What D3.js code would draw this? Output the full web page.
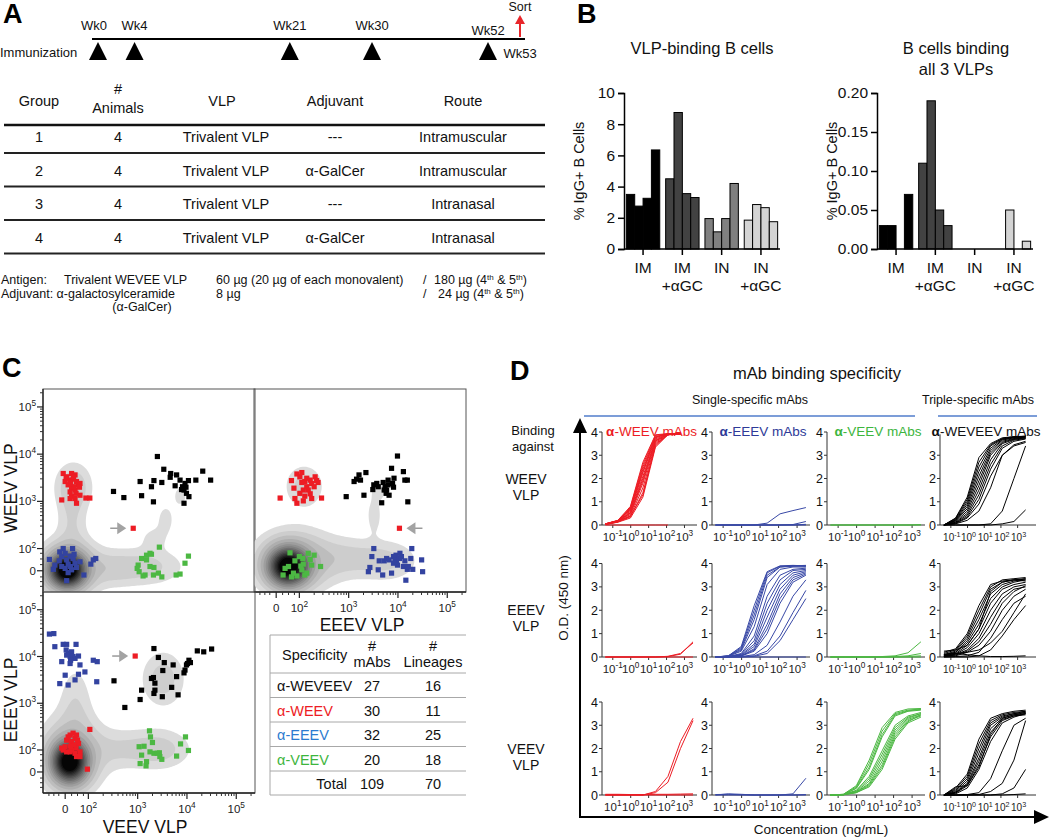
<!DOCTYPE html>
<html>
<head>
<meta charset="utf-8">
<script src="https://cdn.jsdelivr.net/npm/d3@7"></script>
<style>
  body { margin: 0; background: #fff; }
  text { font-family: "Liberation Sans", Arial, Helvetica, sans-serif; }
</style>
</head>
<body>
<svg id="fig" width="1050" height="839"></svg>
<script>
// ---------- Panel A data ----------
const immunWeeks = [0, 4, 21, 30, 52];
const sortWeek = 53;
const groupIds = [1, 2, 3, 4];
const animalCounts = [4, 4, 4, 4];
const vlpNames = ["Trivalent VLP", "Trivalent VLP", "Trivalent VLP", "Trivalent VLP"];
const adjuvants = ["---", "α-GalCer", "---", "α-GalCer"];
const routes = ["Intramuscular", "Intramuscular", "Intranasal", "Intranasal"];

// ---------- Panel B data ----------
const groupLabels = [["IM"], ["IM", "+αGC"], ["IN"], ["IN", "+αGC"]];
const groupColors = ["#000000", "#424242", "#808080", "#d4d4d4"];
const vlpBinding = [[3.5, 2.75, 3.25, 6.35], [4.5, 8.75, 3.55, 3.3], [1.95, 1.1, 1.95, 4.2], [1.85, 2.85, 2.65, 1.75]];
const tripleBinding = [[0.03, 0.03, 0, 0.07], [0.11, 0.19, 0.05, 0.03], [0, 0, 0, 0], [0, 0.05, 0, 0.01]];

// ---------- Panel C data (display units: 1.53 = "0", 2 = 10^2 ... 5 = 10^5) ----------
const flowTicks = [1.53, 2, 3, 4, 5];
const flowTickExp = [null, "2", "3", "4", "5"];
// top-left: x = VEEV, y = WEEV
const tlRed = [[1.49,3.59],[1.56,3.52],[1.66,3.59],[1.73,3.56],[1.53,3.42],[1.63,3.45],[1.69,3.47],[1.76,3.42],[1.59,3.35],[1.80,3.35],[1.66,3.28],[1.83,3.38],[1.73,3.24],[1.63,3.20],[1.66,3.11],[1.73,3.06],[1.63,3.06],[1.83,3.13],[1.95,3.07],[2.03,3.07],[1.46,3.03],[1.76,2.96],[1.71,3.31],[1.82,3.30],[1.64,3.38],[1.55,3.49],[1.75,3.17],[1.70,3.52],[2.91,2.43]];
const tlBlack = [[2.51,3.21],[2.72,3.08],[3.05,3.42],[3.08,3.12],[3.28,3.31],[3.33,3.44],[3.32,2.99],[3.40,3.95],[3.49,3.40],[3.53,3.68],[3.67,3.59],[3.66,3.51],[3.79,3.56],[3.76,3.33],[3.86,3.45],[3.91,3.31],[3.94,3.24],[3.99,3.17],[3.96,3.38],[4.03,3.44],[4.04,3.10],[3.94,2.96],[4.18,3.45],[4.32,3.64],[4.48,3.45],[3.89,3.25],[3.98,3.30]];
const tlBlue = [[1.21,1.77],[1.29,1.56],[1.32,1.65],[1.42,1.93],[1.46,1.83],[1.49,2.00],[1.53,1.90],[1.56,1.76],[1.59,1.67],[1.63,1.84],[1.68,2.00],[1.69,1.79],[1.73,1.69],[1.66,1.55],[1.76,1.60],[1.83,1.72],[1.59,1.49],[1.53,1.58],[1.46,1.62],[1.41,1.74],[1.56,1.32],[1.91,1.44],[2.05,1.67],[2.10,1.76],[2.15,1.79],[1.71,1.88],[1.64,1.62]];
const tlGreen = [[3.01,1.65],[3.08,1.79],[3.18,1.86],[3.25,1.90],[3.28,1.88],[3.44,2.03],[3.03,1.51],[3.11,1.42],[3.15,1.44],[3.25,1.62],[3.33,1.60],[3.32,1.44],[3.42,1.48],[3.49,1.40],[3.78,1.44],[3.86,1.46],[3.96,1.69],[4.03,1.84],[2.99,1.58],[3.18,1.76]];
const tlBlobs = [[1.55,1.52,0.24,0.24,1.0],[1.6,1.6,0.38,0.36,0.18],[1.65,2.55,0.2,0.45,0.06],[1.68,3.3,0.24,0.32,0.1],[3.15,1.6,0.5,0.26,0.08],[2.45,1.55,0.35,0.25,0.06],[3.85,3.1,0.11,0.18,0.045],[3.55,2.6,0.13,0.24,0.045],[3.3,2.2,0.18,0.18,0.04]];
const tlArrow = [2.91, 2.43, 1];
// top-right: x = EEEV, y = WEEV
const trRed = [[1.84,3.44],[1.89,3.28],[1.95,3.58],[2.01,3.52],[2.05,3.40],[2.11,3.42],[2.08,3.24],[2.15,3.49],[2.22,3.45],[2.25,3.38],[2.32,3.52],[2.35,3.44],[2.38,3.40],[2.01,3.17],[2.11,3.11],[2.22,3.16],[2.25,3.06],[2.08,3.01],[1.95,2.96],[1.91,3.06],[2.18,3.24],[2.30,3.31],[1.61,3.07],[2.45,3.07],[2.05,3.61],[2.15,3.31],[4.03,2.43]];
const trBlack = [[2.95,3.10],[3.11,3.42],[3.16,3.47],[3.21,3.56],[3.24,3.45],[3.35,3.61],[3.31,3.13],[3.49,3.25],[3.51,3.35],[3.57,3.38],[3.60,3.31],[3.67,2.97],[3.70,3.40],[3.74,3.31],[3.77,3.24],[3.76,3.17],[3.80,3.45],[3.82,3.13],[3.87,3.70],[3.89,3.38],[3.91,3.30],[3.92,3.49],[3.99,3.96],[4.11,3.63],[4.14,3.45],[4.19,3.45],[4.20,2.99],[3.80,3.35],[3.72,3.24]];
const trBlue = [[3.40,1.51],[3.43,1.60],[3.47,1.83],[3.51,2.00],[3.60,1.55],[3.62,1.74],[3.69,1.44],[3.72,1.74],[3.77,1.79],[3.82,1.76],[3.87,1.48],[3.91,1.83],[3.94,1.79],[3.96,1.86],[3.97,1.72],[3.99,1.65],[4.03,1.79],[4.04,1.90],[4.07,1.83],[4.11,1.62],[4.14,1.74],[4.16,1.33],[4.19,1.56],[4.26,1.79],[4.28,2.00],[4.30,1.56],[4.48,1.76],[4.50,1.51],[4.21,1.62],[3.91,1.69]];
const trGreen = [[1.67,1.44],[1.71,1.58],[1.78,1.62],[1.81,1.91],[1.84,1.40],[1.91,1.74],[1.95,1.42],[2.00,1.83],[2.03,1.63],[2.05,1.55],[2.08,1.67],[2.11,1.44],[2.15,1.48],[2.18,1.90],[2.22,1.77],[2.25,1.65],[2.30,1.86],[2.43,1.62],[1.88,1.48],[2.07,1.79]];
const trBlobs = [[1.75,1.6,0.26,0.26,1.0],[1.9,1.72,0.5,0.4,0.18],[3.0,1.78,0.48,0.28,0.07],[3.8,1.72,0.4,0.28,0.065],[2.08,3.3,0.24,0.28,0.09],[3.5,2.7,0.11,0.28,0.05],[3.6,3.2,0.11,0.14,0.045]];
const trArrow = [4.03, 2.43, -1];
// bottom-left: x = VEEV, y = EEEV
const blRed = [[1.46,2.04],[1.53,2.07],[1.56,2.21],[1.59,2.28],[1.63,2.32],[1.66,2.18],[1.69,2.36],[1.73,2.25],[1.76,2.32],[1.80,2.14],[1.75,2.04],[1.66,2.00],[1.73,1.93],[1.83,1.96],[1.76,1.86],[1.83,1.86],[1.63,1.96],[1.56,1.96],[1.49,2.00],[2.03,2.44],[1.98,1.59],[1.71,2.11],[1.78,2.21],[1.64,2.08],[2.95,4.01]];
const blBlack = [[2.52,3.48],[3.05,3.08],[3.08,3.28],[3.28,3.53],[3.32,3.55],[3.33,3.21],[3.35,3.28],[3.33,4.17],[3.42,3.98],[3.50,3.14],[3.54,3.87],[3.51,3.70],[3.69,3.34],[3.72,3.82],[3.79,3.57],[3.82,3.18],[3.94,3.65],[3.96,3.71],[3.99,3.82],[4.01,3.85],[4.04,3.92],[4.07,3.87],[4.21,4.12],[4.34,4.10],[4.50,4.16],[2.74,2.91],[3.35,3.43]];
const blBlue = [[1.21,4.48],[1.30,4.49],[1.32,4.21],[1.49,4.26],[1.56,4.26],[1.55,4.14],[1.59,4.07],[1.63,4.00],[1.66,4.10],[1.69,4.00],[1.75,4.26],[1.46,3.89],[1.63,3.85],[1.73,3.96],[1.80,4.01],[1.83,3.82],[1.93,3.67],[1.53,3.60],[1.73,3.50],[1.80,3.62],[1.42,3.42],[1.59,3.39],[2.10,3.92],[2.18,3.89],[2.17,3.46],[1.64,3.92],[1.56,4.03]];
const blGreen = [[3.03,2.07],[3.08,1.89],[3.13,2.08],[3.18,1.75],[3.17,1.66],[3.24,2.41],[3.26,2.28],[3.30,2.16],[3.33,1.93],[3.40,1.93],[3.45,1.86],[3.49,1.80],[3.44,1.94],[3.79,1.87],[3.87,2.13],[3.97,2.28],[4.03,1.99],[3.05,1.71],[3.25,1.96]];
const blBlobs = [[1.6,1.72,0.23,0.28,1.0],[1.65,1.9,0.4,0.5,0.18],[1.72,3.0,0.22,0.55,0.055],[2.6,2.0,0.38,0.28,0.055],[3.4,2.0,0.42,0.28,0.09],[3.5,3.5,0.28,0.38,0.09]];
const blArrow = [2.95, 4.01, 1];

const specificities = ["α-WEVEEV", "α-WEEV", "α-EEEV", "α-VEEV"];
const specColors = ["#111", "#ed1c24", "#2b7bd0", "#3db53d"];
const mabCounts = [27, 30, 32, 20];
const lineageCounts = [16, 11, 25, 18];

// ---------- Panel D data (O.D. 450 nm at each concentration, ng/mL) ----------
const concs = [0.0384, 0.192, 0.96, 4.8, 24, 120, 600, 3000];
const colTitles = ["α-WEEV mAbs", "α-EEEV mAbs", "α-VEEV mAbs", "α-WEVEEV mAbs"];
const rowNames = ["WEEV", "EEEV", "VEEV"];

const weevMabsOnWeev = [
  [0.02,0.12,0.30,1.20,3.35,3.88,3.90],[0.02,0.13,0.35,1.40,3.40,3.90,3.90],[0.03,0.14,0.40,1.60,3.50,3.88,3.92],
  [0.03,0.15,0.45,1.80,3.55,3.90,3.90],[0.03,0.15,0.50,2.00,3.60,3.92,3.93],[0.04,0.16,0.55,2.10,3.65,3.90,3.90],
  [0.04,0.17,0.60,2.25,3.70,3.91,3.92],[0.04,0.18,0.65,2.40,3.75,3.92,3.92],[0.05,0.18,0.70,2.50,3.80,3.93,3.93],
  [0.05,0.19,0.75,2.60,3.85,3.92,3.94],[0.05,0.20,0.80,2.70,3.88,3.93,3.93],[0.03,0.14,0.38,1.30,3.45,3.89,3.91],
  [0.04,0.16,0.52,1.90,3.62,3.90,3.92],[0.05,0.19,0.68,2.30,3.78,3.92,3.93],[0,0,0,0,0,0]];
const eeevMabsOnWeev = [[0,0,0,0,0.08,0.48,0.62,0.75],[0,0,0,0,0,0,0.02,0.15],[0,0,0,0,0,0,0,0.03],[0,0,0,0,0,0,0,0]];
const veevMabsOnWeev = [[0,0,0,0,0,0,0,0],[0,0,0,0,0,0,0,0.02]];
const weveevMabsOnWeev = [
  [0,0.30,1.20,2.90,3.50,3.75,3.80,3.82],[0,0.28,1.10,2.70,3.45,3.72,3.80,3.80],[0,0.25,1.00,2.50,3.40,3.70,3.78,3.82],
  [0,0.22,0.90,2.30,3.30,3.68,3.76,3.80],[0,0.20,0.80,2.10,3.20,3.65,3.75,3.78],[0,0.18,0.70,1.90,3.10,3.60,3.72,3.78],
  [0,0.15,0.60,1.70,3.00,3.55,3.70,3.75],[0,0.12,0.50,1.50,2.80,3.50,3.68,3.75],[0,0.10,0.42,1.30,2.60,3.40,3.65,3.72],
  [0,0.08,0.35,1.10,2.40,3.30,3.60,3.70],[0,0.06,0.30,0.90,2.10,3.00,3.45,3.60],[0,0.05,0.20,0.60,1.60,3.00,3.40,3.55],
  [0,0,0,0,0.05,0.60,2.00,3.40],[0,0,0,0,0,0.05,0.15,0.65]];
const weevMabsOnEeev = [[0,0,0,0,0,0.03,0.15,0.60],[0,0,0,0,0,0.02,0.12,0.65],[0,0,0,0,0,0,0,0]];
const eeevMabsOnEeev = [
  [0,0.05,0.45,2.20,3.65,3.90,3.92,3.90],[0,0.05,0.40,2.00,3.60,3.88,3.90,3.92],[0,0.04,0.35,1.80,3.50,3.85,3.90,3.88],
  [0,0.04,0.30,1.60,3.40,3.85,3.88,3.90],[0,0.03,0.25,1.30,3.10,3.75,3.85,3.85],[0,0.02,0.15,0.90,2.60,3.50,3.75,3.80],
  [0,0.02,0.12,0.70,2.30,3.30,3.70,3.75],[0,0.02,0.10,0.55,2.00,3.10,3.60,3.70],[0,0.01,0.08,0.45,1.70,2.90,3.50,3.65],
  [0,0.01,0.06,0.35,1.40,2.70,3.40,3.60],[0,0.01,0.05,0.30,1.20,2.50,3.30,3.55],[0,0.01,0.04,0.25,1.00,2.30,3.20,3.50],
  [0,0,0.02,0.10,0.50,1.50,2.60,3.30],[0,0,0.01,0.05,0.25,0.90,1.90,2.85],[0,0,0,0.03,0.15,0.70,1.60,2.50],
  [0,0,0,0,0,0,0,0]];
const veevMabsOnEeev = [[0,0,0,0,0.02,0.05,0.18,0.65],[0,0,0,0,0,0.02,0.05,0.15],[0,0,0,0,0,0,0.02,0.05],[0,0,0,0,0,0,0,0]];
const weveevMabsOnEeev = [
  [0.20,0.35,1.00,2.20,3.10,3.25,3.30,3.35],[0.15,0.30,0.90,2.00,3.00,3.30,3.35,3.40],[0.10,0.25,0.80,1.80,2.90,3.20,3.30,3.30],
  [0.10,0.20,0.70,1.60,2.70,3.10,3.25,3.35],[0.05,0.20,0.60,1.40,2.50,3.00,3.20,3.30],[0.05,0.15,0.50,1.20,2.30,2.90,3.10,3.20],
  [0.05,0.12,0.40,1.00,2.00,2.70,3.00,3.10],[0.03,0.10,0.30,0.80,1.70,2.50,2.90,3.00],[0.03,0.08,0.25,0.65,1.40,2.30,2.80,3.05],
  [0.02,0.05,0.20,0.50,1.10,2.00,2.60,2.90],[0.25,0.30,0.50,1.20,2.80,3.20,3.30,3.25],[0.10,0.15,0.10,0.05,0.02,0.02,0.03,0.05],
  [0,0.02,0.05,0.20,0.80,1.60,2.30,2.60],[0,0,0,0.05,0.30,0.90,1.60,2.20],[0.10,0.15,0.20,0.30,0.60,1.10,1.90,2.70]];
const weevMabsOnVeev = [[0,0,0,0,0.15,0.80,2.30,3.30],[0,0,0,0,0.10,0.55,2.00,3.20],[0.03,0.03,0.02,0.02,0.03,0.03,0.04,0.05],[0,0,0,0,0,0,0,0]];
const eeevMabsOnVeev = [[0,0.05,0.03,0,0,0,0.05,0.72],[0,0,0,0,0,0,0,0.02],[0.02,0.03,0.01,0,0,0,0,0]];
const veevMabsOnVeev = [
  [0,0.03,0.40,1.50,2.90,3.55,3.70,3.72],[0,0.03,0.35,1.35,2.75,3.50,3.65,3.70],[0,0.02,0.30,1.20,2.60,3.45,3.62,3.68],
  [0,0.02,0.28,1.10,2.50,3.40,3.60,3.65],[0,0.02,0.20,0.80,1.90,3.00,3.40,3.55],[0,0.02,0.18,0.70,1.75,2.90,3.35,3.50],
  [0,0.01,0.15,0.60,1.60,2.80,3.30,3.50],[0,0.01,0.13,0.50,1.45,2.70,3.25,3.45],[0,0.01,0.12,0.45,1.30,2.60,3.20,3.40],
  [0,0.01,0.10,0.40,1.20,2.50,3.15,3.45],[0,0.01,0.10,0.35,1.10,2.40,3.10,3.35]];
const weveevMabsOnVeev = [
  [0,0.30,0.90,2.40,3.30,3.50,3.60,3.65],[0,0.25,0.80,2.20,3.20,3.45,3.55,3.60],[0,0.20,0.70,2.00,3.10,3.40,3.50,3.60],
  [0,0.15,0.60,1.80,3.00,3.35,3.50,3.55],[0,0.12,0.50,1.60,2.85,3.30,3.45,3.55],[0,0.10,0.45,1.45,2.70,3.25,3.40,3.50],
  [0,0.08,0.40,1.30,2.50,3.20,3.40,3.45],[0,0.05,0.30,1.10,2.30,3.10,3.35,3.50],[0,0.35,0.40,1.20,2.60,3.30,3.45,3.50],
  [0,0,0.02,0.10,0.70,1.90,3.00,3.30],[0,0,0,0.02,0.15,0.50,1.50,3.20],[0,0,0,0,0,0.05,0.30,1.10],[0,0,0,0,0,0,0.02,0.05]];
const curveGrid = [
  [weevMabsOnWeev, eeevMabsOnWeev, veevMabsOnWeev, weveevMabsOnWeev],
  [weevMabsOnEeev, eeevMabsOnEeev, veevMabsOnEeev, weveevMabsOnEeev],
  [weevMabsOnVeev, eeevMabsOnVeev, veevMabsOnVeev, weveevMabsOnVeev]];
const curveColors = ["#ed1c24", "#3848a6", "#4cb843", "#000"];
const odTicks = [0, 1, 2, 3, 4];
const concTickExp = ["-1", "0", "1", "2", "3"];

// ---------------------------------------------------------------
const svg = d3.select("#fig");

function addText(parent, x, y, s, size, anchor = "start", weight = "normal", fill = "#111") {
  return parent.append("text").attr("x", x).attr("y", y).attr("font-size", size)
    .attr("text-anchor", anchor).attr("font-weight", weight).attr("fill", fill).text(s);
}
// "10^n" label with superscript
function powText(parent, x, y, exp, size, anchor = "middle") {
  const t = parent.append("text").attr("x", x).attr("y", y).attr("font-size", size)
    .attr("text-anchor", anchor).attr("fill", "#222");
  if (exp === null) { t.text("0"); return t; }
  t.append("tspan").text("10");
  t.append("tspan").attr("dy", -size * 0.42).attr("font-size", size * 0.72).text(exp);
  return t;
}
// a run of plain / superscript pieces, laid out as separate text elements
function richText(parent, x, y, pieces, size) {
  let cx = x;
  pieces.forEach(([s, sup]) => {
    const t = addText(parent, cx, sup ? y - 4 : y, s, sup ? 8 : size).attr("xml:space", "preserve");
    cx += t.node().getComputedTextLength();
  });
}

// panel letters
addText(svg, 3, 23, "A", 27, "start", "bold", "#000");
addText(svg, 577, 23, "B", 27, "start", "bold", "#000");
addText(svg, 2, 377, "C", 27, "start", "bold", "#000");
addText(svg, 510, 380, "D", 27, "start", "bold", "#000");

// ================= Panel A =================
const gA = svg.append("g");
const wkX = d3.scaleLinear().domain([0, 30, 52, 53]).range([98, 372, 488, 520]);
gA.append("line").attr("x1", 92).attr("x2", 525).attr("y1", 39).attr("y2", 39)
  .attr("stroke", "#000").attr("stroke-width", 2);
gA.selectAll(".tri").data(immunWeeks).join("path").attr("class", "tri")
  .attr("d", w => `M${wkX(w) - 9},60 L${wkX(w)},42 L${wkX(w) + 9},60 Z`).attr("fill", "#000");
immunWeeks.forEach(w => addText(gA, wkX(w) - (w === 0 ? 4 : 0), w === 52 ? 35 : 30, "Wk" + w, 13, "middle"));
addText(gA, 0, 57, "Immunization", 13);
addText(gA, wkX(sortWeek), 58, "Wk" + sortWeek, 13, "middle");
addText(gA, wkX(sortWeek), 11, "Sort", 12.5, "middle");
gA.append("line").attr("x1", wkX(sortWeek)).attr("x2", wkX(sortWeek)).attr("y1", 37).attr("y2", 22)
  .attr("stroke", "#e8262a").attr("stroke-width", 2);
gA.append("path").attr("d", `M${wkX(sortWeek) - 5},24 L${wkX(sortWeek)},15 L${wkX(sortWeek) + 5},24 Z`).attr("fill", "#e8262a");

const colCx = [39, 118, 222, 335, 463];
addText(gA, colCx[0], 106, "Group", 14.5, "middle");
addText(gA, colCx[1], 94, "#", 14.5, "middle");
addText(gA, colCx[1], 113, "Animals", 14.5, "middle");
addText(gA, colCx[2], 106, "VLP", 14.5, "middle");
addText(gA, colCx[3], 106, "Adjuvant", 14.5, "middle");
addText(gA, colCx[4], 106, "Route", 14.5, "middle");
gA.append("line").attr("x1", 4).attr("x2", 545).attr("y1", 125).attr("y2", 125).attr("stroke", "#111").attr("stroke-width", 2.5);
const rowY = d3.scaleLinear().domain([0, 1]).range([137, 170.5]);
groupIds.forEach((gid, i) => {
  const y = rowY(i) + 5;
  addText(gA, colCx[0], y, gid, 14.5, "middle");
  addText(gA, colCx[1], y, animalCounts[i], 14.5, "middle");
  addText(gA, colCx[2] + 4, y, vlpNames[i], 14.5, "middle");
  addText(gA, colCx[3], y, adjuvants[i], 14.5, "middle");
  addText(gA, colCx[4], y, routes[i], 14.5, "middle");
  gA.append("line").attr("x1", 4).attr("x2", 545).attr("y1", rowY(i) + 16).attr("y2", rowY(i) + 16)
    .attr("stroke", "#222").attr("stroke-width", 1.8);
});
addText(gA, 1, 284, "Antigen:", 12.5);
addText(gA, 64, 284, "Trivalent WEVEE VLP", 12.5);
addText(gA, 216, 284, "60 µg (20 µg of each monovalent)", 12.5);
addText(gA, 423, 284, "/", 12.5);
richText(gA, 434, 284, [["180 µg (4"], ["th", 1], ["\u00a0& 5"], ["th", 1], [")"]], 12.5);
addText(gA, 1, 298, "Adjuvant: α-galactosylceramide", 12.5);
addText(gA, 216, 298, "8 µg", 12.5);
addText(gA, 423, 298, "/", 12.5);
richText(gA, 438, 298, [["24 µg (4"], ["th", 1], ["\u00a0& 5"], ["th", 1], [")"]], 12.5);
addText(gA, 142, 311, "(α-GalCer)", 12.5, "middle");

// ================= Panel B =================
function barChart(data, yMax, yTicks, fmt, x0, x1, titleLines, titleX) {
  const g = svg.append("g");
  const y = d3.scaleLinear().domain([0, yMax]).range([249, 93]);
  const gx = d3.scaleBand().domain(d3.range(4)).range([x0, x1]).paddingInner(0.15).paddingOuter(0.06);
  const bx = d3.scaleBand().domain(d3.range(4)).range([0, gx.bandwidth()]);
  titleLines.forEach((s, i) => addText(g, titleX, 54 + i * 21, s, 16.5, "middle"));
  data.forEach((vals, gi) => {
    g.selectAll(null).data(vals).join("rect")
      .attr("x", (d, i) => gx(gi) + bx(i)).attr("width", bx.bandwidth())
      .attr("y", d => y(d)).attr("height", d => y(0) - y(d))
      .attr("fill", groupColors[gi]).attr("stroke", "#000").attr("stroke-width", d => d > 0 ? 1 : 0);
    const cx = gx(gi) + gx.bandwidth() / 2;
    g.append("line").attr("x1", cx).attr("x2", cx).attr("y1", 249).attr("y2", 255).attr("stroke", "#000").attr("stroke-width", 1.5);
    groupLabels[gi].forEach((s, k) => addText(g, cx, 273 + k * 18, s, 15.5, "middle"));
  });
  const ax = g.append("g").attr("transform", `translate(${x0},0)`)
    .call(d3.axisLeft(y).tickValues(yTicks).tickFormat(fmt).tickSize(6));
  ax.selectAll("text").attr("font-size", 15.5).attr("fill", "#111").attr("font-family", "Liberation Sans, Arial");
  ax.selectAll("line,path").attr("stroke", "#000").attr("stroke-width", 1.5);
  g.append("line").attr("x1", x0).attr("x2", x1).attr("y1", 249).attr("y2", 249).attr("stroke", "#000").attr("stroke-width", 1.5);
  g.append("text").attr("transform", `translate(${x0 - 40},171) rotate(-90)`).attr("text-anchor", "middle")
    .attr("font-size", 14.5).attr("fill", "#111").text("% IgG+ B Cells");
}
barChart(vlpBinding, 10, [0, 2, 4, 6, 8, 10], d3.format("d"), 624, 780, ["VLP-binding B cells"], 702);
barChart(tripleBinding, 0.2, [0, 0.05, 0.1, 0.15, 0.2], d3.format(".2f"), 877, 1033, ["B cells binding", "all 3 VLPs"], 956);

// ================= Panel C =================
const flowDom = [1.08, 5.38];
const densityLevels = [0.03, 0.065, 0.11, 0.17, 0.24, 0.31, 0.38, 0.45, 0.52, 0.59, 0.66, 0.73, 0.8, 0.87, 0.94];
const densityFills = densityLevels.map((t, i) => i === 0 ? "#dcdcdc" : i === 1 ? "#cdcdcd" :
  d3.interpolateRgb("#bdbdbd", "#050505")((i - 2) / (densityLevels.length - 3)));
const minorTicks = [1.2, 1.3, 1.4, 1.66, 1.78, 1.9].concat(
  d3.range(2, 5).flatMap(d => d3.range(2, 10).map(k => d + Math.log10(k))), [5.3]);

function flowPlot(id, box, blobs, sets, arrow, opts) {
  const [x0, y0, x1, y1] = box;
  const g = svg.append("g");
  const xs = d3.scaleLinear().domain(flowDom).range([x0, x1]);
  const ys = d3.scaleLinear().domain(flowDom).range([y1, y0]);
  g.append("clipPath").attr("id", id).append("rect").attr("x", x0).attr("y", y0).attr("width", x1 - x0).attr("height", y1 - y0);
  const inner = g.append("g").attr("clip-path", `url(#${id})`);
  // density contours built from the blob table
  const n = 120, step = (flowDom[1] - flowDom[0]) / n;
  const vals = new Float64Array(n * n);
  for (let j = 0; j < n; j++) for (let i = 0; i < n; i++) {
    const tx = flowDom[0] + i * step, ty = flowDom[0] + j * step;
    let v = 0;
    blobs.forEach(([bx, by, sx, sy, w]) => { v += w * Math.exp(-((tx - bx) ** 2) / (2 * sx * sx) - ((ty - by) ** 2) / (2 * sy * sy)); });
    vals[j * n + i] = v;
  }
  const cont = d3.contours().size([n, n]).thresholds(densityLevels)(vals);
  const proj = d3.geoTransform({ point(px, py) { this.stream.point(xs(flowDom[0] + px * step), ys(flowDom[0] + py * step)); } });
  inner.selectAll("path.dens").data(cont).join("path").attr("class", "dens")
    .attr("d", d3.geoPath(proj)).attr("fill", (d, i) => densityFills[i]);
  // gray arrow pointing to the odd red mAb
  const [ax, ay, dir] = arrow;
  const tip = xs(ax) - dir * 7, tail = tip - dir * 16;
  inner.append("line").attr("x1", tail).attr("x2", tip - dir * 6).attr("y1", ys(ay)).attr("y2", ys(ay)).attr("stroke", "#9a9a9a").attr("stroke-width", 1.5);
  inner.append("path").attr("d", `M${tip},${ys(ay)} L${tip - dir * 9},${ys(ay) - 6} L${tip - dir * 9},${ys(ay) + 6} Z`).attr("fill", "#a3a3a3");
  sets.forEach(([pts, col]) => {
    inner.selectAll(null).data(pts).join("rect")
      .attr("x", d => xs(d[0]) - 2.6).attr("y", d => ys(d[1]) - 2.6).attr("width", 5.2).attr("height", 5.2).attr("fill", col);
  });
  g.append("rect").attr("x", x0).attr("y", y0).attr("width", x1 - x0).attr("height", y1 - y0)
    .attr("fill", "none").attr("stroke", "#555").attr("stroke-width", 1);
  if (opts.left) {
    g.append("line").attr("x1", x0).attr("x2", x0).attr("y1", y0).attr("y2", y1).attr("stroke", "#222").attr("stroke-width", 1.3);
    minorTicks.forEach(t => g.append("line").attr("x1", x0 - 3).attr("x2", x0).attr("y1", ys(t)).attr("y2", ys(t)).attr("stroke", "#333"));
    flowTicks.forEach((t, i) => {
      g.append("line").attr("x1", x0 - 6).attr("x2", x0).attr("y1", ys(t)).attr("y2", ys(t)).attr("stroke", "#222").attr("stroke-width", 1.2);
      powText(g, x0 - 7, ys(t) + 4, flowTickExp[i], 11.5, "end");
    });
  }
  if (opts.bottom) {
    g.append("line").attr("x1", x0).attr("x2", x1).attr("y1", y1).attr("y2", y1).attr("stroke", "#222").attr("stroke-width", 1.3);
    minorTicks.forEach(t => g.append("line").attr("x1", xs(t)).attr("x2", xs(t)).attr("y1", y1).attr("y2", y1 + 3).attr("stroke", "#333"));
    flowTicks.forEach((t, i) => {
      g.append("line").attr("x1", xs(t)).attr("x2", xs(t)).attr("y1", y1).attr("y2", y1 + 6).attr("stroke", "#222").attr("stroke-width", 1.2);
      powText(g, xs(t), y1 + 20, flowTickExp[i], 11.5, "middle");
    });
  }
}
const cRed = "#ed1c24", cBlue = "#3343a0", cGreen = "#4cb843";
flowPlot("tl", [43, 389, 255, 592], tlBlobs, [[tlBlue, cBlue], [tlGreen, cGreen], [tlRed, cRed], [tlBlack, "#000"]], tlArrow, { left: true });
flowPlot("tr", [254, 389, 466, 592], trBlobs, [[trGreen, cGreen], [trBlue, cBlue], [trRed, cRed], [trBlack, "#000"]], trArrow, { bottom: true });
flowPlot("bl", [43, 592, 255, 793], blBlobs, [[blRed, cRed], [blGreen, cGreen], [blBlue, cBlue], [blBlack, "#000"]], blArrow, { left: true, bottom: true });
svg.append("text").attr("transform", "translate(17,488) rotate(-90)").attr("text-anchor", "middle").attr("font-size", 17.5).attr("fill", "#111").text("WEEV VLP");
svg.append("text").attr("transform", "translate(17,700) rotate(-90)").attr("text-anchor", "middle").attr("font-size", 17.5).attr("fill", "#111").text("EEEV VLP");
addText(svg, 362, 631, "EEEV VLP", 17.5, "middle");
addText(svg, 145, 833, "VEEV VLP", 17.5, "middle");

// table of mAb counts
const gT = svg.append("g");
const tRow = d3.scaleLinear().domain([0, 1]).range([685.5, 710]);
const tLine = "#a8a8a8";
gT.append("line").attr("x1", 270).attr("x2", 270).attr("y1", 635).attr("y2", 795).attr("stroke", tLine);
[635, 673, 697.5, 722, 746.5, 771, 795].forEach(yy => gT.append("line").attr("x1", 270).attr("x2", 466).attr("y1", yy).attr("y2", yy).attr("stroke", tLine));
addText(gT, 282, 660, "Specificity", 14.5);
addText(gT, 372, 651, "#", 14.5, "middle"); addText(gT, 372, 667, "mAbs", 14.5, "middle");
addText(gT, 433, 651, "#", 14.5, "middle"); addText(gT, 433, 667, "Lineages", 14.5, "middle");
specificities.forEach((s, i) => {
  addText(gT, 277, tRow(i) + 5.5, s, 14.5, "start", "normal", specColors[i]);
  addText(gT, 372, tRow(i) + 5.5, mabCounts[i], 14.5, "middle");
  addText(gT, 433, tRow(i) + 5.5, lineageCounts[i], 14.5, "middle");
});
addText(gT, 347, tRow(4) + 5.5, "Total", 14.5, "end");
addText(gT, 372, tRow(4) + 5.5, d3.sum(mabCounts), 14.5, "middle");
addText(gT, 433, tRow(4) + 5.5, d3.sum(lineageCounts), 14.5, "middle");

// ================= Panel D =================
const gD = svg.append("g");
addText(gD, 817, 379, "mAb binding specificity", 16.5, "middle");
addText(gD, 750, 404, "Single-specific mAbs", 12.5, "middle");
addText(gD, 978, 404, "Triple-specific mAbs", 12.5, "middle");
gD.append("line").attr("x1", 584).attr("x2", 915).attr("y1", 416).attr("y2", 416).attr("stroke", "#7c9dd8").attr("stroke-width", 2);
gD.append("line").attr("x1", 938).attr("x2", 1037).attr("y1", 416).attr("y2", 416).attr("stroke", "#7c9dd8").attr("stroke-width", 2);
const headColors = ["#ed1c24", "#2e3a98", "#3db53d", "#111"];
const colRange = [[602, 697], [712, 810], [827, 925], [940, 1036]];
const colDomain = [[0.025, 5000], [0.025, 5000], [0.025, 5000], [0.0224, 12600]];
const rowRange = [[525, 432], [657, 563.5], [795, 702]];
colTitles.forEach((s, c) => {
  const t = addText(gD, (colRange[c][0] + colRange[c][1]) / 2 + (c === 3 ? -2 : 2), 436, "", 13.5, "middle", "normal", headColors[c]);
  t.append("tspan").attr("font-weight", "bold").text(s.slice(0, 1));
  t.append("tspan").text(s.slice(1));
});
addText(gD, 533, 435, "Binding", 13, "middle");
addText(gD, 533, 451, "against", 13, "middle");
rowNames.forEach((s, r) => {
  const mid = (rowRange[r][0] + rowRange[r][1]) / 2;
  addText(gD, 526, mid + 5, s, 14, "middle");
  addText(gD, 526, mid + 21, "VLP", 14, "middle");
});
// axis arrows
gD.append("line").attr("x1", 580).attr("x2", 580).attr("y1", 818).attr("y2", 428).attr("stroke", "#000").attr("stroke-width", 2);
gD.append("path").attr("d", "M573,433 L580,418 L587,433 Z").attr("fill", "#000");
gD.append("line").attr("x1", 579).attr("x2", 1036).attr("y1", 817).attr("y2", 817).attr("stroke", "#000").attr("stroke-width", 2);
gD.append("path").attr("d", "M1034,810 L1049,817 L1034,824 Z").attr("fill", "#000");
gD.append("text").attr("transform", "translate(568,598) rotate(-90)").attr("text-anchor", "middle").attr("font-size", 13.5).attr("fill", "#111").text("O.D. (450 nm)");
addText(gD, 821, 834, "Concentration (ng/mL)", 13.5, "middle");

curveGrid.forEach((rowSets, r) => {
  rowSets.forEach((curves, c) => {
    const g = gD.append("g");
    const x = d3.scaleLog().domain(colDomain[c]).range(colRange[c]);
    const y = d3.scaleLinear().domain([0, 4]).range(rowRange[r]);
    const yTop = (r === 0 && c === 3) ? 3.9 : 4;
    const ticks = (r === 0 && c === 3) ? odTicks.slice(0, 4) : odTicks;
    const x0 = colRange[c][0], x1 = colRange[c][1];
    g.append("line").attr("x1", x0).attr("x2", x0).attr("y1", y(0)).attr("y2", y(yTop)).attr("stroke", "#333");
    g.append("line").attr("x1", x0).attr("x2", x1).attr("y1", y(0)).attr("y2", y(0)).attr("stroke", "#333");
    ticks.forEach(t => {
      g.append("line").attr("x1", x0 - 3).attr("x2", x0).attr("y1", y(t)).attr("y2", y(t)).attr("stroke", "#333");
      addText(g, x0 - 4, y(t) + 4.5, t, 12.5, "end");
    });
    const tickSize = c === 3 ? 10 : 11.5;
    concTickExp.forEach((e, k) => {
      const xv = x(Math.pow(10, +e));
      g.append("line").attr("x1", xv).attr("x2", xv).attr("y1", y(0)).attr("y2", y(0) + 3).attr("stroke", "#333");
      const lab = (r === 2 && c === 0 && k === 0) ? "1" : e;
      powText(g, xv + (c === 3 ? 1 : 0), y(0) + 16, lab, tickSize, "middle");
    });
    const line = d3.line().x((d, i) => x(concs[i])).y(d => y(d));
    g.selectAll("path.curve").data(curves).join("path").attr("class", "curve")
      .attr("d", line).attr("fill", "none").attr("stroke", curveColors[c]).attr("stroke-width", 1);
  });
});
</script>
</body>
</html>
